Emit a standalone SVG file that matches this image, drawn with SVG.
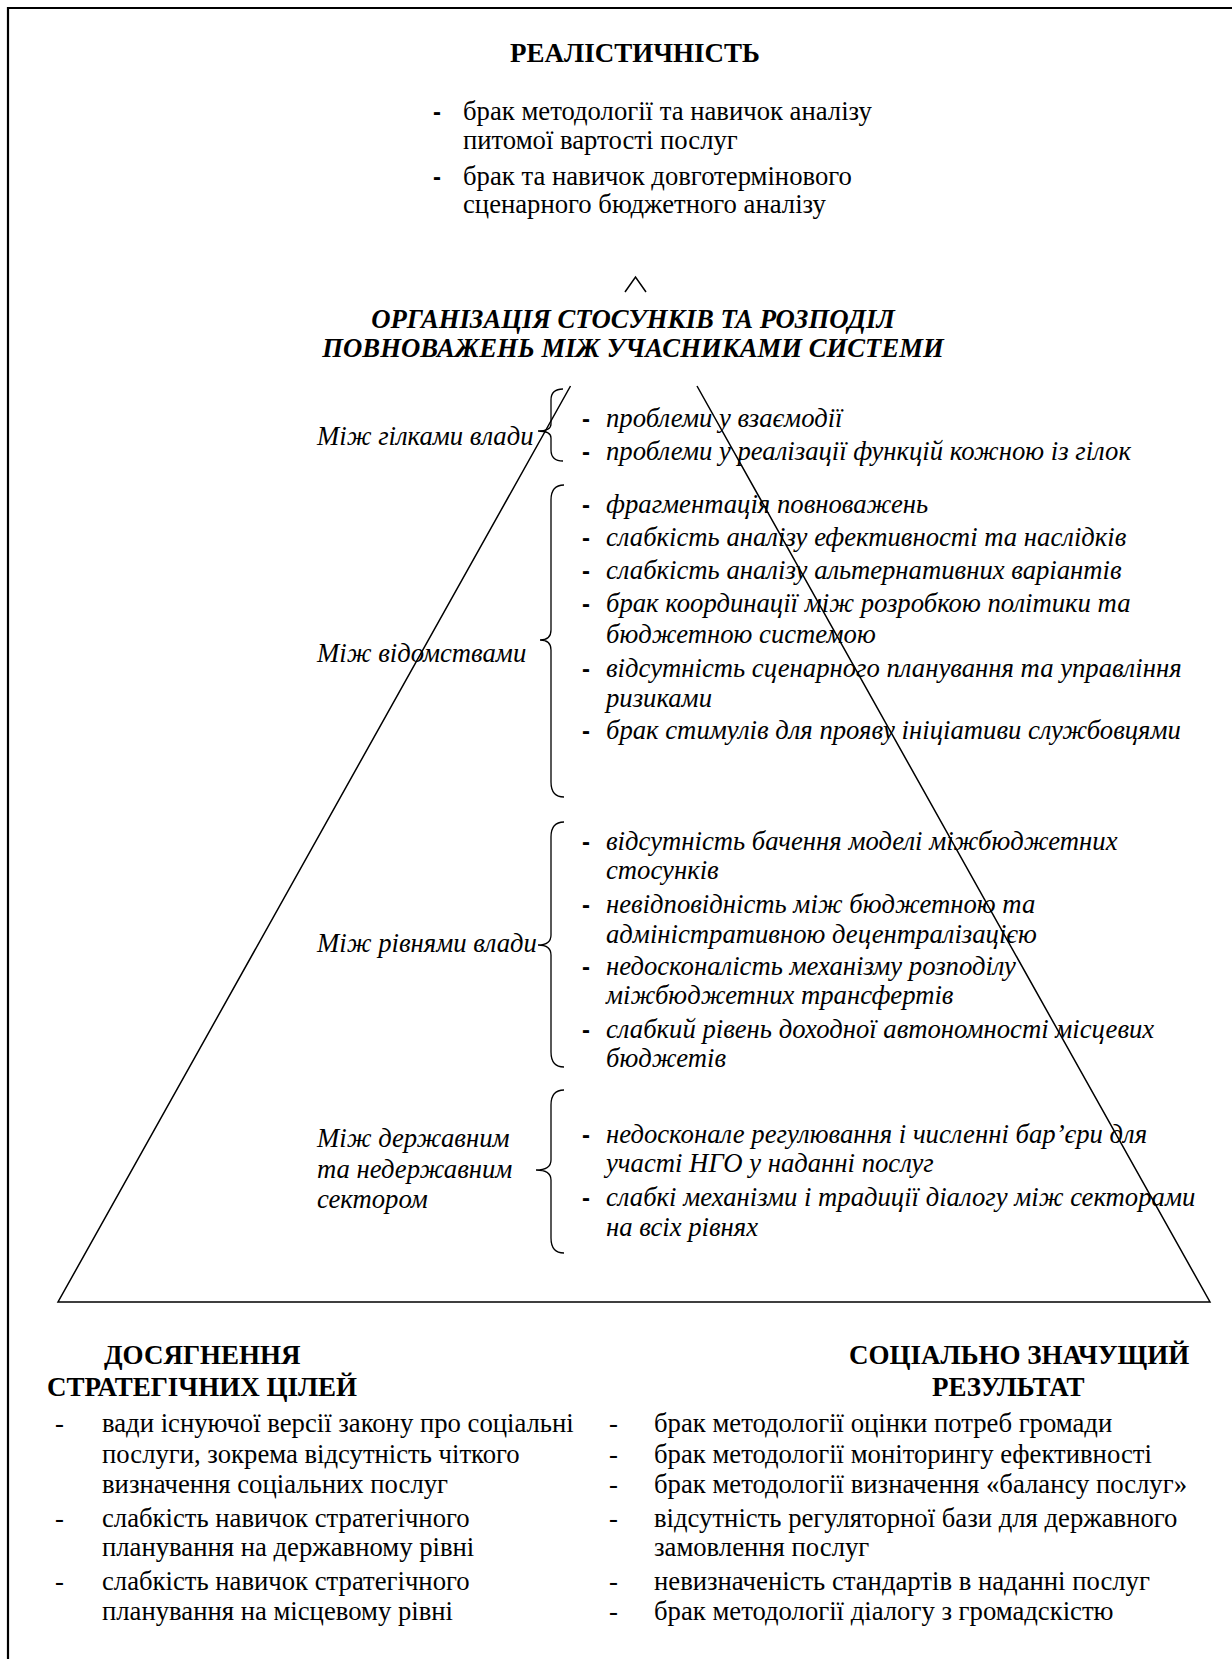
<svg xmlns="http://www.w3.org/2000/svg" width="1232" height="1659" viewBox="0 0 1232 1659">
<style>
text{font-family:"Liberation Serif","Times New Roman",serif;fill:#000}
.h{font-size:27px;font-weight:bold}
.hi{font-size:26.7px;font-weight:bold;font-style:italic}
.t{font-size:26.7px}
.i{font-size:26.7px;font-style:italic}
.d{font-family:"Liberation Sans",Arial,sans-serif;font-size:24px;font-weight:bold}
.ln{fill:none;stroke:#000;stroke-width:1.5}
.br{fill:none;stroke:#000;stroke-width:1.3}
</style>
<rect width="1232" height="1659" fill="#fff"/>
<g id="frame"><path d="M8,1659 V8 H1232" fill="none" stroke="#000" stroke-width="2.2"/></g>

<g id="connectors">
<path class="ln" d="M570.5,386 L58,1302 L1210,1302 L697,386"/>
<path class="ln" d="M625,292 L635.5,277 L646,292" stroke-width="1.2"/>
</g>

<g id="realism">
<text class="h" x="635" y="62" text-anchor="middle">РЕАЛІСТИЧНІСТЬ</text>
<text class="d" x="433" y="120">-</text>
<text class="t" x="463" y="120">брак методології та навичок аналізу</text>
<text class="t" x="463" y="149">питомої вартості послуг</text>
<text class="d" x="433" y="185">-</text>
<text class="t" x="463" y="185">брак та навичок довготермінового</text>
<text class="t" x="463" y="213">сценарного бюджетного аналізу</text>
</g>

<g id="organization">
<text class="hi" x="633" y="328" text-anchor="middle">ОРГАНІЗАЦІЯ СТОСУНКІВ ТА РОЗПОДІЛ</text>
<text class="hi" x="633" y="357" text-anchor="middle">ПОВНОВАЖЕНЬ МІЖ УЧАСНИКАМИ СИСТЕМИ</text>
</g>

<g id="branches">
<text class="i" x="317" y="445">Між гілками влади</text>
<path class="br" d="M563,389 Q551,389 551,400 L551,424 Q551,431 538,431 Q551,431 551,438 L551,450 Q551,461 563,461"/>
<text class="d" x="582" y="427">-</text>
<text class="i" x="606" y="427">проблеми у взаємодії</text>
<text class="d" x="582" y="460">-</text>
<text class="i" x="606" y="460">проблеми у реалізації функцій кожною із гілок</text>
</g>

<g id="agencies">
<text class="i" x="317" y="662">Між відомствами</text>
<path class="br" d="M564,485 Q551,485 551,500 L551,630 Q551,640 540,640 Q551,640 551,650 L551,782 Q551,797 564,797"/>
<text class="d" x="582" y="513">-</text>
<text class="i" x="606" y="513">фрагментація повноважень</text>
<text class="d" x="582" y="546">-</text>
<text class="i" x="606" y="546">слабкість аналізу ефективності та наслідків</text>
<text class="d" x="582" y="579">-</text>
<text class="i" x="606" y="579">слабкість аналізу альтернативних варіантів</text>
<text class="d" x="582" y="612">-</text>
<text class="i" x="606" y="612">брак координації між розробкою політики та</text>
<text class="i" x="606" y="643">бюджетною системою</text>
<text class="d" x="582" y="677">-</text>
<text class="i" x="606" y="677">відсутність сценарного планування та управління</text>
<text class="i" x="606" y="707">ризиками</text>
<text class="d" x="582" y="739">-</text>
<text class="i" x="606" y="739">брак стимулів для прояву ініціативи службовцями</text>
</g>

<g id="levels">
<text class="i" x="317" y="952">Між рівнями влади</text>
<path class="br" d="M564,822 Q551,822 551,837 L551,935 Q551,945 538,945 Q551,945 551,955 L551,1052 Q551,1067 564,1067"/>
<text class="d" x="582" y="850">-</text>
<text class="i" x="606" y="850">відсутність бачення моделі міжбюджетних</text>
<text class="i" x="606" y="879">стосунків</text>
<text class="d" x="582" y="913">-</text>
<text class="i" x="606" y="913">невідповідність між бюджетною та</text>
<text class="i" x="606" y="943">адміністративною децентралізацією</text>
<text class="d" x="582" y="975">-</text>
<text class="i" x="606" y="975">недосконалість механізму розподілу</text>
<text class="i" x="606" y="1004">міжбюджетних трансфертів</text>
<text class="d" x="582" y="1038">-</text>
<text class="i" x="606" y="1038">слабкий рівень доходної автономності місцевих</text>
<text class="i" x="606" y="1067">бюджетів</text>
</g>

<g id="sectors">
<text class="i" x="317" y="1147">Між державним</text>
<text class="i" x="317" y="1178">та недержавним</text>
<text class="i" x="317" y="1208">сектором</text>
<path class="br" d="M564,1090 Q551,1090 551,1105 L551,1160 Q551,1170 536,1170 Q551,1170 551,1180 L551,1238 Q551,1253 564,1253"/>
<text class="d" x="582" y="1143">-</text>
<text class="i" x="606" y="1143">недосконале регулювання і численні бар’єри для</text>
<text class="i" x="606" y="1172">участі НГО у наданні послуг</text>
<text class="d" x="582" y="1206">-</text>
<text class="i" x="606" y="1206">слабкі механізми і традиції діалогу між секторами</text>
<text class="i" x="606" y="1236">на всіх рівнях</text>
</g>

<g id="strategic">
<text class="h" x="104" y="1364">ДОСЯГНЕННЯ</text>
<text class="h" x="47" y="1396">СТРАТЕГІЧНИХ ЦІЛЕЙ</text>
<text class="t" x="55" y="1432">-</text>
<text class="t" x="102" y="1432">вади існуючої версії закону про соціальні</text>
<text class="t" x="102" y="1463">послуги, зокрема відсутність чіткого</text>
<text class="t" x="102" y="1493">визначення соціальних послуг</text>
<text class="t" x="55" y="1527">-</text>
<text class="t" x="102" y="1527">слабкість навичок стратегічного</text>
<text class="t" x="102" y="1556">планування на державному рівні</text>
<text class="t" x="55" y="1590">-</text>
<text class="t" x="102" y="1590">слабкість навичок стратегічного</text>
<text class="t" x="102" y="1620">планування на місцевому рівні</text>
</g>

<g id="social">
<text class="h" x="849" y="1364">СОЦІАЛЬНО ЗНАЧУЩИЙ</text>
<text class="h" x="932" y="1396">РЕЗУЛЬТАТ</text>
<text class="t" x="609" y="1432">-</text>
<text class="t" x="654" y="1432">брак методології оцінки потреб громади</text>
<text class="t" x="609" y="1463">-</text>
<text class="t" x="654" y="1463">брак методології моніторингу ефективності</text>
<text class="t" x="609" y="1493">-</text>
<text class="t" x="654" y="1493">брак методології визначення «балансу послуг»</text>
<text class="t" x="609" y="1527">-</text>
<text class="t" x="654" y="1527">відсутність регуляторної бази для державного</text>
<text class="t" x="654" y="1556">замовлення послуг</text>
<text class="t" x="609" y="1590">-</text>
<text class="t" x="654" y="1590">невизначеність стандартів в наданні послуг</text>
<text class="t" x="609" y="1620">-</text>
<text class="t" x="654" y="1620">брак методології діалогу з громадскістю</text>
</g>
</svg>
